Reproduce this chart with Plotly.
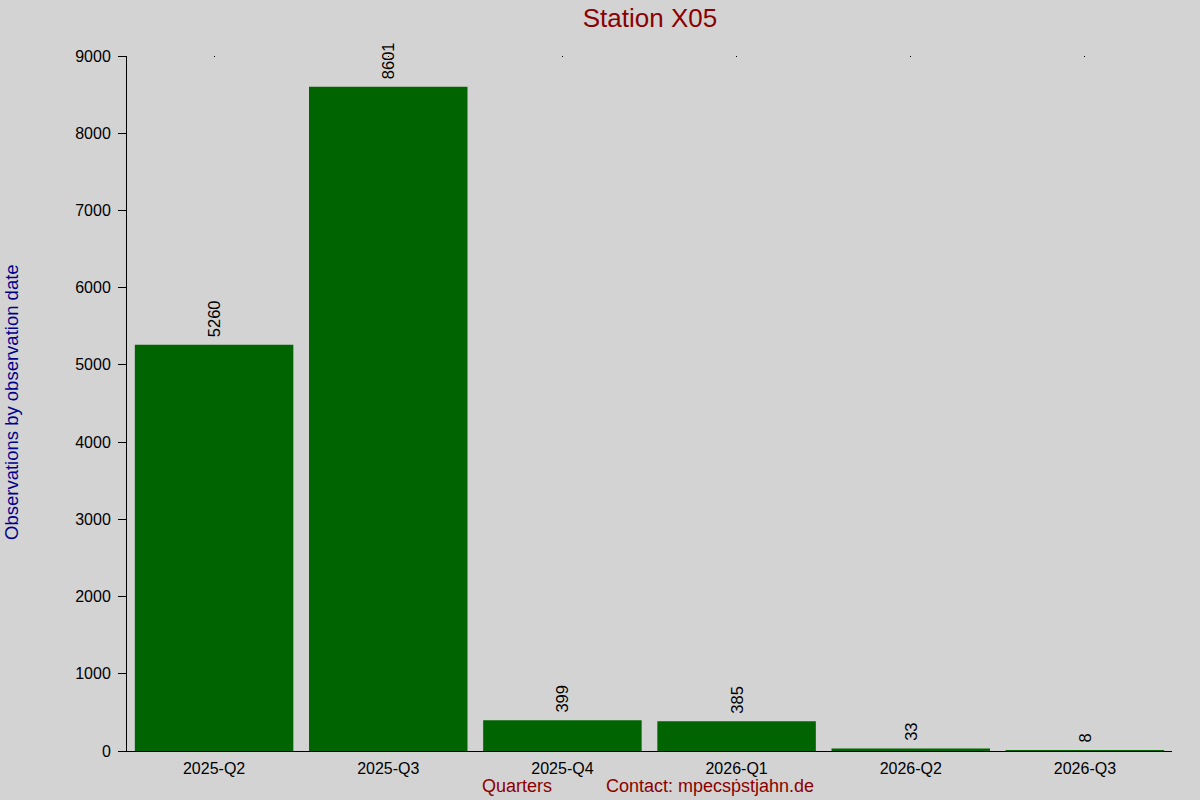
"""Bar chart of observations per quarter for one station (Plotly)."""
import plotly.graph_objects as go

quarters = ["2025-Q2", "2025-Q3", "2025-Q4", "2026-Q1", "2026-Q2", "2026-Q3"]
observations = [5260, 8601, 399, 385, 33, 8]
y_ticks = [0, 1000, 2000, 3000, 4000, 5000, 6000, 7000, 8000, 9000]

title_text = "Station X05"
y_title = "Observations by observation date"
x_title = "Quarters"
contact = "Contact: mpecsṗstjahn.de"

BG = "#d3d3d3"
FONT = "Liberation Sans, Arial, sans-serif"

W, H = 1200, 800
L, R, T, B = 127, 28, 56, 49
plot_w = W - L - R
plot_h = H - T - B

fig = go.Figure()
fig.add_trace(
    go.Bar(
        x=quarters,
        y=observations,
        marker=dict(color="#006400", line=dict(width=0)),
        text=[" " + str(v) for v in observations],
        textposition="outside",
        textangle=-90,
        textfont=dict(family=FONT, size=16.5, color="black"),
        cliponaxis=False,
        showlegend=False,
    )
)
# empty trace on a top axis, only for the tiny tick marks along the top edge
fig.add_trace(
    go.Scatter(x=quarters, y=[None] * len(quarters), xaxis="x2", showlegend=False, hoverinfo="skip")
)

fig.update_layout(
    width=W,
    height=H,
    paper_bgcolor=BG,
    plot_bgcolor=BG,
    margin=dict(l=L, r=R, t=T, b=B, autoexpand=False),
    bargap=0.09,
    font=dict(family=FONT, size=16, color="black"),
    title=dict(
        text=title_text,
        x=650 / W,
        xanchor="center",
        y=1 - 18 / H,
        yanchor="middle",
        font=dict(family=FONT, size=26, color="#8b0000"),
    ),
    xaxis=dict(
        showline=True,
        linecolor="black",
        linewidth=1,
        ticks="",
        showgrid=False,
        zeroline=False,
        tickfont=dict(size=16, color="black"),
        ticklabelstandoff=3,
    ),
    xaxis2=dict(
        overlaying="x",
        matches="x",
        side="top",
        showline=False,
        ticks="inside",
        ticklen=1,
        tickcolor="black",
        showticklabels=False,
        showgrid=False,
        zeroline=False,
    ),
    yaxis=dict(
        range=[0, 9000],
        tickvals=y_ticks,
        showline=True,
        linecolor="black",
        linewidth=1,
        ticks="outside",
        ticklen=8,
        tickcolor="black",
        showgrid=False,
        zeroline=False,
        tickfont=dict(size=16, color="black"),
        ticklabelstandoff=4,
    ),
    annotations=[
        dict(
            text=y_title,
            textangle=-90,
            xref="paper",
            yref="paper",
            x=(11 - L) / plot_w,
            y=(H - B - 402) / plot_h,
            xanchor="center",
            yanchor="middle",
            showarrow=False,
            font=dict(family=FONT, size=18.5, color="#00008b"),
        ),
        dict(
            text=x_title,
            xref="paper",
            yref="paper",
            x=(517 - L) / plot_w,
            y=-(786 - (H - B)) / plot_h,
            xanchor="center",
            yanchor="middle",
            showarrow=False,
            font=dict(family=FONT, size=18, color="#8b0000"),
        ),
        dict(
            text=contact,
            xref="paper",
            yref="paper",
            x=(710 - L) / plot_w,
            y=-(786 - (H - B)) / plot_h,
            xanchor="center",
            yanchor="middle",
            showarrow=False,
            font=dict(family=FONT, size=18, color="#8b0000"),
        ),
    ],
)

fig.write_html(
    "out.html",
    config={"displayModeBar": False},
    post_script="document.body.style.margin='0';",
)
